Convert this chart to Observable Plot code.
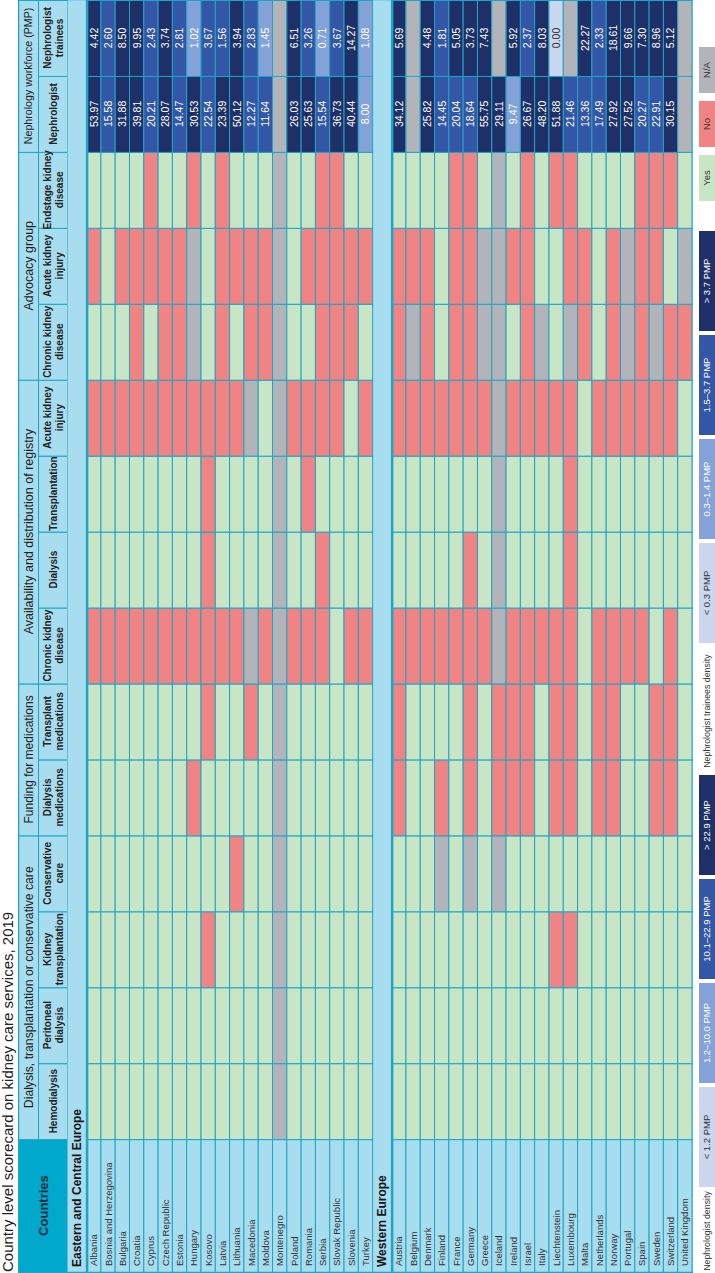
<!DOCTYPE html>
<html>
<head>
<meta charset="utf-8">
<script src="https://cdn.jsdelivr.net/npm/d3@7"></script>
<script src="https://cdn.jsdelivr.net/npm/@observablehq/plot@0.6"></script>
<style>
  html, body { margin:0; padding:0; width:715px; height:1273px; overflow:hidden; background:#fff; }
  #page { position:absolute; left:0; top:0; width:1273px; height:715px; transform-origin:0 0;
          transform: translateY(1273px) rotate(-90deg); background:#fff;
          font-family:"Liberation Sans", Arial, Helvetica, sans-serif; }
  #title { height:18px; line-height:16px; font-size:15px; color:#222; padding-left:1px; white-space:nowrap; }
  #chart svg { display:block; }
  #legend { position:relative; height:22px; font-size:9.5px; color:#333; }
  .lg { position:absolute; top:6px; height:16px; line-height:16px; text-align:center; white-space:nowrap; }
  .lbl { font-size:8.8px; }
</style>
</head>
<body>
<div id="page">
  <div id="title"></div>
  <div id="chart"></div>
  <div id="legend"></div>
</div>
<script>
// ---------------- DATA ----------------
const title = "Country level scorecard on kidney care services, 2019";
const countriesHeader = "Countries";
const groupLabels = [
  "Dialysis, transplantation or conservative care",
  "Funding for medications",
  "Availability and distribution of registry",
  "Advocacy group",
  "Nephrology workforce (PMP)"
];
const columnLabels = [
  "Hemodialysis", "Peritoneal\ndialysis", "Kidney\ntransplantation", "Conservative\ncare",
  "Dialysis\nmedications", "Transplant\nmedications",
  "Chronic kidney\ndisease", "Dialysis", "Transplantation", "Acute kidney\ninjury",
  "Chronic kidney\ndisease", "Acute kidney\ninjury", "Endstage kidney\ndisease",
  "Nephrologist", "Nephrologist\ntrainees"
];
const columnGroup = [0,0,0,0,1,1,2,2,2,2,3,3,3,4,4];

const regions = ["Eastern and Central Europe", "Western Europe"];

const eceCountries = ["Albania","Bosnia and Herzegovina","Bulgaria","Croatia","Cyprus","Czech Republic","Estonia","Hungary","Kosovo","Latvia","Lithuania","Macedonia","Moldova","Montenegro","Poland","Romania","Serbia","Slovak Republic","Slovenia","Turkey"];
// status per categorical column: Y = Yes, N = No, - = N/A
const eceStatus = [
  "YYYYYYNYYNYNY", // Albania
  "YYYYYYNYYNYYY", // Bosnia and Herzegovina
  "YYYYYYNYYNYNY", // Bulgaria
  "YYYYYYNYYNNNY", // Croatia
  "YYYYYYNYYNYNN", // Cyprus
  "YYYYYYNYYNNNY", // Czech Republic
  "YYYYYYNYYNNNY", // Estonia
  "YYYYNYNYYN--N", // Hungary
  "YYNYYNNNNNYYY", // Kosovo
  "YYYYYYNYYNNNN", // Latvia
  "YYYNYYNYYNYNY", // Lithuania
  "YYYYYN-YY-NNY", // Macedonia
  "YYYYYYNYYYNNY", // Moldova
  "-------------", // Montenegro
  "YYYYYYNYYNYYY", // Poland
  "YYYYYYNYNNYNY", // Romania
  "YYYYYYNNYNNNN", // Serbia
  "YYYYYYYYYNNNN", // Slovak Republic
  "YYYYYYNYYYNNY", // Slovenia
  "YYYYYYNYYNYNY"  // Turkey
];
const eceNephrologist = [53.97,15.58,31.88,39.81,20.21,28.07,14.47,30.53,22.54,23.39,50.12,12.27,11.64,null,26.03,25.63,15.54,36.73,40.44,8.00];
const eceTrainees = [4.42,2.60,8.50,9.95,2.43,3.74,2.81,1.02,3.67,1.56,3.94,2.83,1.45,null,6.51,3.26,0.71,3.67,14.27,1.08];

const weCountries = ["Austria","Belgium","Denmark","Finland","France","Germany","Greece","Iceland","Ireland","Israel","Italy","Liechtenstein","Luxembourg","Malta","Netherlands","Norway","Portugal","Spain","Sweden","Switzerland","United Kingdom"];
const weStatus = [
  "YYYYNNNYYNNNY", // Austria
  "YYYYYYNYYN-NY", // Belgium
  "YYYYYYNYYNNNY", // Denmark
  "YYY-NYNYYNYYY", // Finland
  "YYYYYYNYYNNNN", // France
  "YYY-NNNNYNNNN", // Germany
  "YYYYYYNYYN--Y", // Greece
  "YYY-NN-------", // Iceland
  "YYYYNNNYYNYNY", // Ireland
  "YYYYNNNYYNNNN", // Israel
  "YYYYYYNYYN-YY", // Italy
  "YYNYNNNYYNYYN", // Liechtenstein
  "YYNYNNNNNN-NN", // Luxembourg
  "YYYYYYYYYYNNY", // Malta
  "YYYYNNNYYNYYY", // Netherlands
  "YYYYNNNYYNNNY", // Norway
  "YYYYYYNYYN--Y", // Portugal
  "YYYYYYNYYNNNN", // Spain
  "YYYYNNYYYN-NN", // Sweden
  "YYYYNNNYYNNYN", // Switzerland
  "YYYYYYYYYYN-Y"  // United Kingdom
];
const weNephrologist = [34.12,null,25.82,14.45,20.04,18.64,55.75,29.11,9.47,26.67,48.20,51.88,21.46,13.36,17.49,27.92,27.52,20.27,22.91,30.15,null];
const weTrainees = [5.69,null,4.48,1.81,5.05,3.73,7.43,null,5.92,2.37,8.03,0.00,null,22.27,2.33,18.61,9.66,7.30,8.96,5.12,null];

const nephLegendLabel = "Nephrologist density";
const nephLegend = ["< 1.2 PMP","1.2–10.0 PMP","10.1–22.9 PMP","> 22.9 PMP"];
const nephThresholds = [1.2, 10.05, 22.95];
const traineeLegendLabel = "Nephrologist trainees density";
const traineeLegend = ["< 0.3 PMP","0.3–1.4 PMP","1.5–3.7 PMP","> 3.7 PMP"];
const traineeThresholds = [0.3, 1.5, 3.705];
const statusLegend = ["Yes","No","N/A"];

// ---------------- STYLE ----------------
const FONT = '"Liberation Sans", Arial, Helvetica, sans-serif';
const TEAL = "#1fa5c4", LIGHT = "#a8dcef", HEAD = "#00a8cc";
const statusColor = {"Y":"#c8e5c6", "N":"#f08384", "-":"#b2b4b9"};
const blueColors = ["#cad7ef","#84a2d8","#3456a6","#1f2f68"];
const NA = "#b2b4b9";

// ---------------- LAYOUT ----------------
const W = 1273, H = 675;
const X0 = 1.75;                 // width of Countries column in column units
const nCols = columnLabels.length;
const xTotal = X0 + nCols;
const colPx = W / xTotal;
const GH = 1.4, SH = 2.03, RH = 1.33; // header / sub-header / region row heights in row units
const colX = i => X0 + i;

const headerGroups = groupLabels.map((g, gi) => {
  const idx = columnGroup.map((v, i) => v === gi ? i : -1).filter(i => i >= 0);
  return {label: g, x1: colX(idx[0]), x2: colX(idx[idx.length - 1]) + 1, y1: 0, y2: GH};
});
const headerCols = columnLabels.map((c, i) => ({label: c, x1: colX(i), x2: colX(i) + 1, y1: GH, y2: GH + SH}));
const countriesHead = [{label: countriesHeader, x1: 0, x2: X0, y1: 0, y2: GH + SH}];

const regionCountries = [eceCountries, weCountries];
const regionStatus = [eceStatus, weStatus];
const regionNeph = [eceNephrologist, weNephrologist];
const regionTrainees = [eceTrainees, weTrainees];

const bin = (v, th) => th.filter(t => v >= t).length;

const regionRows = [], countryRows = [], cells = [], numbers = [];
let yy = GH + SH;
regions.forEach((r, ri) => {
  regionRows.push({label: r, x1: 0, x2: xTotal, y1: yy, y2: yy + RH});
  yy += RH;
  regionCountries[ri].forEach((name, k) => {
    countryRows.push({label: name, x1: 0, x2: X0, y1: yy, y2: yy + 1});
    const st = regionStatus[ri][k];
    for (let c = 0; c < st.length; c++) {
      cells.push({x1: colX(c), x2: colX(c) + 1, y1: yy, y2: yy + 1, fill: statusColor[st[c]]});
    }
    [[regionNeph[ri][k], nephThresholds, 13], [regionTrainees[ri][k], traineeThresholds, 14]].forEach(([v, th, c]) => {
      if (v == null) {
        cells.push({x1: colX(c), x2: colX(c) + 1, y1: yy, y2: yy + 1, fill: NA});
      } else {
        const b = bin(v, th);
        cells.push({x1: colX(c), x2: colX(c) + 1, y1: yy, y2: yy + 1, fill: blueColors[b]});
        numbers.push({x: colX(c) + 0.5, y: yy + 0.5, text: v.toFixed(2), color: b === 0 ? "#333" : "#fff"});
      }
    });
    yy += 1;
  });
});
const yTotal = yy;

const mid = k => d => (d[k + "1"] + d[k + "2"]) / 2;
// group titles shrink to fit their span
const groupFont = d => Math.min(12.5, ((d.x2 - d.x1) * colPx - 4) / (d.label.length * 0.535));

const chart = Plot.plot({
  width: W, height: H, margin: 0,
  x: {type: "linear", domain: [0, xTotal], range: [0.5, W - 0.5], axis: null},
  y: {type: "linear", domain: [0, yTotal], range: [0.5, H - 1], axis: null},
  style: {background: LIGHT, fontFamily: FONT},
  marks: [
    // header
    Plot.rect(countriesHead, {x1: "x1", x2: "x2", y1: "y1", y2: "y2", fill: HEAD, stroke: TEAL}),
    Plot.text(countriesHead, {x: mid("x"), y: mid("y"), text: "label", fontSize: 13, fontWeight: "bold", fill: "#1c2c3c"}),
    Plot.rect(headerGroups, {x1: "x1", x2: "x2", y1: "y1", y2: "y2", fill: LIGHT, stroke: TEAL}),
    Plot.text(headerGroups, {x: mid("x"), y: mid("y"), text: "label", fontSize: groupFont, fill: "#1e1e1e"}),
    Plot.rect(headerCols, {x1: "x1", x2: "x2", y1: "y1", y2: "y2", fill: LIGHT, stroke: TEAL}),
    Plot.text(headerCols, {x: mid("x"), y: mid("y"), text: "label", fontSize: 10, fontWeight: "bold", lineHeight: 1.15, fill: "#222"}),
    // region rows
    Plot.rect(regionRows, {x1: "x1", x2: "x2", y1: "y1", y2: "y2", fill: LIGHT}),
    Plot.text(regionRows, {x: "x1", y: mid("y"), text: "label", dx: 5, textAnchor: "start", fontSize: 12, fontWeight: "bold", fill: "#151515"}),
    // country names
    Plot.rect(countryRows, {x1: "x1", x2: "x2", y1: "y1", y2: "y2", fill: LIGHT, stroke: TEAL}),
    Plot.text(countryRows, {x: "x1", y: mid("y"), text: "label", dx: 6, textAnchor: "start", fontSize: 9.5, fill: "#333"}),
    // data cells
    Plot.rect(cells, {x1: "x1", x2: "x2", y1: "y1", y2: "y2", fill: d => d.fill, stroke: TEAL, strokeWidth: 1}),
    Plot.text(numbers, {x: "x", y: "y", text: "text", fill: d => d.color, fontSize: 10.5}),
    // thick lines below region headers
    Plot.ruleY(regionRows, {y: "y2", stroke: TEAL, strokeWidth: 2.5}),
    Plot.frame({stroke: TEAL, strokeWidth: 1.5})
  ]
});
document.getElementById("chart").appendChild(chart);
document.getElementById("title").textContent = title;

// ---------------- LEGEND ----------------
const legend = document.getElementById("legend");
function addItem(text, left, width, bg, color, cls) {
  const d = document.createElement("div");
  d.className = "lg" + (cls ? " " + cls : "");
  d.textContent = text;
  d.style.left = left + "px";
  d.style.width = width + "px";
  if (bg) d.style.background = bg;
  d.style.color = color || "#333";
  legend.appendChild(d);
}
addItem(nephLegendLabel, 1, 82, null, "#333", "lbl");
nephLegend.forEach((t, i) => addItem(t, 86 + i * 104, 100, blueColors[i], i === 0 ? "#333" : "#fff"));
addItem(traineeLegendLabel, 498, 128, null, "#333", "lbl");
traineeLegend.forEach((t, i) => addItem(t, 630 + i * 104, 100, blueColors[i], i === 0 ? "#333" : "#fff"));
const stColors = [statusColor.Y, statusColor.N, statusColor["-"]];
statusLegend.forEach((t, i) => addItem(t, 1072 + i * 54, 46, stColors[i], "#333"));
</script>
</body>
</html>
